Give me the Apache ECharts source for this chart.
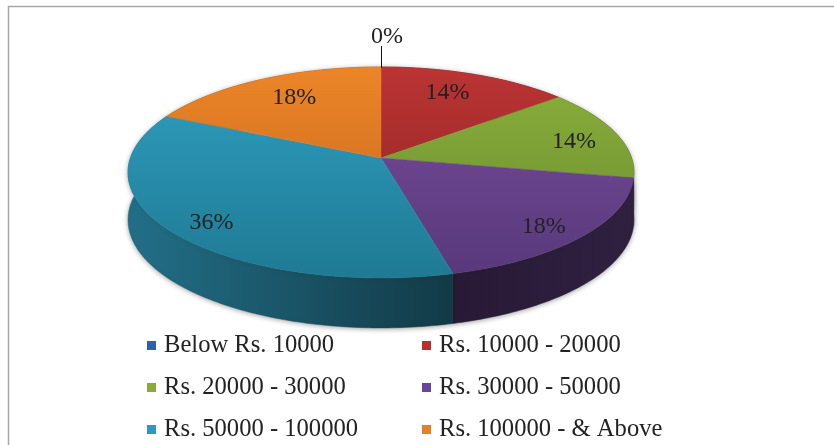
<!DOCTYPE html>
<html>
<head>
<meta charset="utf-8">
<style>html,body{margin:0;padding:0;background:#fff}#c{width:834px;height:445px}</style>
<script src="https://cdn.jsdelivr.net/npm/echarts@6/dist/echarts.min.js"></script>
</head>
<body>
<div id="c"></div>
<script>
var categories = ['Below Rs. 10000','Rs. 10000 - 20000','Rs. 20000 - 30000','Rs. 30000 - 50000','Rs. 50000 - 100000','Rs. 100000 - & Above'];
var shares = [0, 14, 14, 18, 36, 18];
var keyColors = ['#2a62ae','#b83030','#8aab3a','#6a439a','#2a9bc0','#e97f24'];
var topLight = ['#3a70b8','#bb3434','#8ab03c','#784e9e','#2f9fc0','#ec8528'];
var topDark = ['#2a5590','#8a2222','#6a8a2c','#58387a','#1f7a94','#c2651a'];
var wallStops = [['#1c3a60','#1c3a60'],['#5a1515','#5a1515'],['#4a6020','#3e521a'],['#281a36','#2f2040'],['#226f88','#123a46'],['#8a4a10','#8a4a10']];

var CX = 381, CY = 158, RX = 250.6, RY = 103.5, K = 0.137, DEPTH = 47, FRONT_EXTRA = 3;
var labelTune = [[0, 1], [-3, 0.77], [1.4, 0.81], [1.5, 0.84], [-2.4, 0.84], [2.4, 0.755]];
var total = shares.reduce(function (a, b) { return a + b; }, 0);
function project(theta, r, lowered) {
  var X = r * Math.sin(theta), Y = -r * Math.cos(theta), w = 1 - K * Y;
  var drop = lowered ? DEPTH + FRONT_EXTRA * Y : 0;
  return [CX + RX * X / w, CY + RY * Y / w + drop];
}
function sliceRange(i) {
  var before = shares.slice(0, i).reduce(function (a, b) { return a + b; }, 0);
  return [before / total * 2 * Math.PI, (before + shares[i]) / total * 2 * Math.PI];
}
function renderSlice(i) {
  return function () {
    var range = sliceRange(i), a0 = range[0], a1 = range[1];
    var children = [];
    var pct = Math.round(shares[i] / total * 100) + '%';
    var textStyle = { text: pct, font: '24px "Liberation Serif"', fill: '#222', align: 'center', verticalAlign: 'middle' };
    if (shares[i] === 0) {
      var edge = project(a0, 1, false);
      children.push({ type: 'line', z2: 3, shape: { x1: edge[0] + 0.5, y1: edge[1] + 1, x2: edge[0] + 0.5, y2: edge[1] - 21 }, style: { stroke: '#111', lineWidth: 1 } });
      textStyle.x = edge[0] + 6; textStyle.y = edge[1] - 30;
      children.push({ type: 'text', z2: 4, style: textStyle });
      return { type: 'group', children: children };
    }
    var steps = Math.max(2, Math.ceil((a1 - a0) / (Math.PI / 180))), outer = [], lower = [], s, t;
    for (s = 0; s <= steps; s++) {
      t = a0 + (a1 - a0) * s / steps;
      outer.push(project(t, 1, false));
      lower.push(project(t, 1, true));
    }
    var wall = outer.concat(lower.slice().reverse());
    var xs = wall.map(function (p) { return p[0]; });
    var wallFill = new echarts.graphic.LinearGradient(Math.min.apply(null, xs), 0, Math.max.apply(null, xs), 0,
      [{ offset: 0, color: wallStops[i][0] }, { offset: 1, color: wallStops[i][1] }], true);
    children.push({ type: 'polygon', z2: 1, shape: { points: wall },
      style: { fill: wallFill, stroke: wallFill, lineWidth: 0.5, shadowBlur: 5, shadowColor: 'rgba(0,0,0,0.35)', shadowOffsetY: 1 } });
    var topFill = new echarts.graphic.LinearGradient(0, CY - 91, 0, CY + 120,
      [{ offset: 0, color: topLight[i] }, { offset: 1, color: topDark[i] }], true);
    children.push({ type: 'polygon', z2: 2, shape: { points: [[CX, CY]].concat(outer) },
      style: { fill: topFill, stroke: topFill, lineWidth: 0.5 } });
    var mid = (a0 + a1) / 2 + labelTune[i][0] * Math.PI / 180, lp = project(mid, labelTune[i][1], false);
    textStyle.x = lp[0]; textStyle.y = lp[1] + 2;
    children.push({ type: 'text', z2: 4, style: textStyle });
    return { type: 'group', children: children };
  };
}
var legendBase = { orient: 'vertical', icon: 'rect', itemWidth: 9, itemHeight: 9, itemGap: 17, selectedMode: false,
  textStyle: { fontFamily: 'Liberation Serif', fontSize: 24.6, color: '#222', padding: [0, 0, 0, 3] } };
function legendAt(left, idx) {
  return Object.assign({}, legendBase, { left: left, top: 333, padding: 0, data: idx.map(function (i) { return categories[i]; }) });
}
var chart = echarts.init(document.getElementById('c'), null, { renderer: 'canvas' });
chart.setOption({
  animation: false,
  backgroundColor: '#fff',
  graphic: [{ type: 'rect', silent: true, shape: { x: 8.5, y: 6.5, width: 900, height: 600 }, style: { fill: 'none', stroke: '#a6a6a6', lineWidth: 1.5 }, z: -1 }],
  legend: [legendAt(147, [0, 2, 4]), legendAt(422, [1, 3, 5])],
  series: categories.map(function (name, i) {
    return { type: 'custom', name: name, coordinateSystem: 'none', data: [[shares[i]]], itemStyle: { color: keyColors[i] }, renderItem: renderSlice(i) };
  })
});
</script>
</body>
</html>
